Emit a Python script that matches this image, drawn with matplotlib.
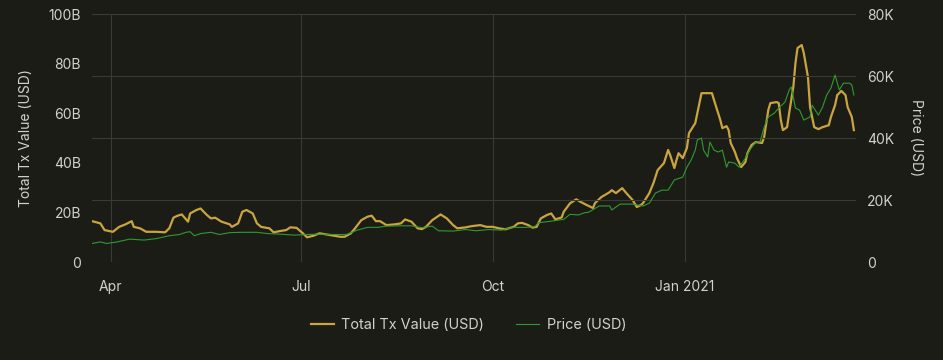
import matplotlib
matplotlib.use("Agg")
import matplotlib.pyplot as plt
import pandas as pd

# Total transaction value, billions USD
tx_dates = [
    "2020-03-23", "2020-03-27", "2020-03-29", "2020-04-02", "2020-04-05", "2020-04-08", "2020-04-11",
    "2020-04-12", "2020-04-15", "2020-04-18", "2020-04-23", "2020-04-27", "2020-04-29", "2020-05-01",
    "2020-05-03", "2020-05-05", "2020-05-08", "2020-05-09", "2020-05-12", "2020-05-14", "2020-05-17",
    "2020-05-19", "2020-05-21", "2020-05-24", "2020-05-28", "2020-05-29", "2020-06-01", "2020-06-03",
    "2020-06-05", "2020-06-08", "2020-06-10", "2020-06-12", "2020-06-16", "2020-06-18", "2020-06-21",
    "2020-06-24", "2020-06-26", "2020-06-29", "2020-07-02", "2020-07-04", "2020-07-07", "2020-07-10",
    "2020-07-15", "2020-07-20", "2020-07-22", "2020-07-25", "2020-07-27", "2020-07-30", "2020-08-02",
    "2020-08-04", "2020-08-06", "2020-08-08", "2020-08-11", "2020-08-15", "2020-08-18", "2020-08-20",
    "2020-08-23", "2020-08-26", "2020-08-28", "2020-08-30", "2020-09-02", "2020-09-06", "2020-09-09",
    "2020-09-12", "2020-09-14", "2020-09-18", "2020-09-21", "2020-09-25", "2020-09-28", "2020-10-01",
    "2020-10-04", "2020-10-07", "2020-10-11", "2020-10-13", "2020-10-15", "2020-10-18", "2020-10-20",
    "2020-10-22", "2020-10-24", "2020-10-27", "2020-10-29", "2020-10-31", "2020-11-03", "2020-11-04",
    "2020-11-07", "2020-11-10", "2020-11-12", "2020-11-15", "2020-11-18", "2020-11-19", "2020-11-22",
    "2020-11-26", "2020-11-27", "2020-11-29", "2020-12-02", "2020-12-04", "2020-12-07", "2020-12-09",
    "2020-12-11", "2020-12-12", "2020-12-15", "2020-12-17", "2020-12-19", "2020-12-22", "2020-12-24",
    "2020-12-25", "2020-12-27", "2020-12-28", "2020-12-29", "2020-12-31", "2021-01-02", "2021-01-03",
    "2021-01-06", "2021-01-07", "2021-01-09", "2021-01-11", "2021-01-14", "2021-01-15", "2021-01-18",
    "2021-01-19", "2021-01-21", "2021-01-22", "2021-01-23", "2021-01-25", "2021-01-26", "2021-01-28",
    "2021-01-30", "2021-01-31", "2021-02-02", "2021-02-04", "2021-02-07", "2021-02-08", "2021-02-10",
    "2021-02-11", "2021-02-14", "2021-02-15", "2021-02-16", "2021-02-17", "2021-02-19", "2021-02-20",
    "2021-02-22", "2021-02-23", "2021-02-24", "2021-02-26", "2021-02-27", "2021-03-01", "2021-03-02",
    "2021-03-04", "2021-03-06", "2021-03-08", "2021-03-11", "2021-03-12", "2021-03-14", "2021-03-15",
    "2021-03-17", "2021-03-19", "2021-03-20", "2021-03-22", "2021-03-23",
]
tx_value = [
    16.5, 15.6, 12.9, 12.2, 14.2, 15.2, 16.5,
    14.2, 13.6, 12.2, 12.2, 12.0, 13.6, 17.9,
    18.7, 19.2, 16.3, 19.6, 21.0, 21.6, 19.0,
    17.6, 17.9, 16.3, 15.2, 14.2, 15.6, 20.3,
    21.0, 19.6, 15.6, 14.2, 13.6, 12.0, 12.5,
    12.9, 14.0, 13.8, 11.6, 10.0, 10.6, 11.6,
    10.9, 10.2, 10.2, 11.6, 13.6, 16.9, 18.3,
    18.7, 16.5, 16.5, 14.9, 15.2, 15.6, 17.2,
    16.3, 13.6, 13.3, 14.2, 16.9, 19.2, 17.6,
    14.9, 13.6, 14.0, 14.5, 14.9, 14.2, 14.2,
    13.6, 13.2, 14.2, 15.6, 15.8, 14.9, 13.9,
    14.2, 17.6, 19.0, 19.6, 17.2, 18.0, 20.3,
    23.7, 25.3, 24.3, 23.0, 21.8, 23.8, 26.2,
    28.2, 29.0, 27.8, 29.8, 27.8, 25.0, 22.2,
    23.0, 23.8, 27.8, 31.9, 37.1, 39.9, 45.2,
    43.1, 37.9, 41.1, 43.9, 41.9, 46.0, 52.0,
    56.0, 60.1, 68.1, 68.1, 68.1, 65.3, 57.3,
    54.0, 54.8, 53.2, 48.0, 44.4, 41.9, 38.3,
    40.3, 43.9, 47.2, 48.4, 48.0, 50.4, 61.3,
    64.1, 64.5, 64.1, 57.3, 53.2, 54.4, 60.1,
    70.6, 80.2, 86.3, 87.5, 84.3, 74.6, 62.5,
    54.4, 53.6, 54.4, 55.2, 58.5, 63.3, 67.3,
    69.0, 67.3, 62.5, 58.5, 53.2,
]

# Price, thousands USD
price_dates = [
    "2020-03-23", "2020-03-27", "2020-03-30", "2020-04-04", "2020-04-10", "2020-04-17", "2020-04-23",
    "2020-04-29", "2020-05-04", "2020-05-07", "2020-05-09", "2020-05-11", "2020-05-14", "2020-05-19",
    "2020-05-23", "2020-05-28", "2020-06-03", "2020-06-10", "2020-06-15", "2020-06-21", "2020-06-28",
    "2020-07-04", "2020-07-10", "2020-07-17", "2020-07-23", "2020-07-28", "2020-08-02", "2020-08-07",
    "2020-08-11", "2020-08-18", "2020-08-23", "2020-08-28", "2020-09-02", "2020-09-05", "2020-09-12",
    "2020-09-18", "2020-09-23", "2020-09-29", "2020-10-05", "2020-10-11", "2020-10-17", "2020-10-21",
    "2020-10-23", "2020-10-29", "2020-11-04", "2020-11-07", "2020-11-11", "2020-11-14", "2020-11-16",
    "2020-11-21", "2020-11-26", "2020-11-27", "2020-12-01", "2020-12-07", "2020-12-12", "2020-12-15",
    "2020-12-18", "2020-12-21", "2020-12-24", "2020-12-27", "2020-12-31", "2021-01-02", "2021-01-04",
    "2021-01-06", "2021-01-07", "2021-01-09", "2021-01-10", "2021-01-12", "2021-01-13", "2021-01-15",
    "2021-01-17", "2021-01-19", "2021-01-21", "2021-01-22", "2021-01-25", "2021-01-27", "2021-01-30",
    "2021-02-01", "2021-02-04", "2021-02-06", "2021-02-08", "2021-02-10", "2021-02-13", "2021-02-15",
    "2021-02-18", "2021-02-20", "2021-02-21", "2021-02-23", "2021-02-25", "2021-02-27", "2021-03-02",
    "2021-03-03", "2021-03-06", "2021-03-08", "2021-03-10", "2021-03-12", "2021-03-14", "2021-03-16",
    "2021-03-18", "2021-03-21", "2021-03-22", "2021-03-23",
]
price_value = [
    6.0, 6.5, 6.0, 6.5, 7.4, 7.1, 7.6,
    8.5, 8.9, 9.6, 9.8, 8.5, 9.2, 9.6,
    8.9, 9.5, 9.6, 9.6, 9.2, 9.0, 8.7,
    8.9, 9.0, 8.9, 8.9, 10.3, 11.2, 11.2,
    11.6, 11.7, 11.7, 11.1, 11.6, 10.1, 10.0,
    10.5, 10.1, 10.5, 10.3, 11.2, 11.2, 11.4,
    12.7, 13.2, 13.8, 15.4, 15.2, 15.9, 16.1,
    18.1, 18.1, 16.8, 18.7, 18.7, 18.1, 19.0,
    22.3, 23.2, 23.2, 26.5, 27.4, 30.6, 32.9,
    36.1, 39.4, 40.0, 36.1, 33.9, 38.7, 36.1,
    35.5, 36.1, 30.6, 32.3, 31.9, 30.6, 33.5,
    36.1, 38.7, 38.7, 43.5, 46.8, 48.1, 49.7,
    51.6, 55.5, 56.5, 49.7, 49.0, 45.8, 46.8,
    50.6, 47.4, 50.0, 53.9, 56.1, 60.3, 55.5,
    57.7, 57.7, 57.1, 53.9,
]

left_ticks = [0, 20, 40, 60, 80, 100]
right_ticks = [0, 20, 40, 60, 80]
x_ticks = ["2020-04-01", "2020-07-01", "2020-10-01", "2021-01-01"]
x_tick_labels = ["Apr", "Jul", "Oct", "Jan 2021"]

bg = "#1c1c17"
grid_c = "#3b3b35"
text_c = "#d2d2ca"
gold = "#c9a43f"
green = "#2f9a2f"

plt.rcParams["font.family"] = ["Inter", "DejaVu Sans"]
plt.rcParams["font.size"] = 10

fig = plt.figure(figsize=(9.43, 3.6), dpi=100, facecolor=bg)
ax = fig.add_axes([0.0976, 0.272, 0.8101, 0.689])
ax.set_facecolor(bg)
ax2 = ax.twinx()

l1, = ax.plot(pd.to_datetime(tx_dates), tx_value, color=gold, lw=1.6,
              label="Total Tx Value (USD)")
l2, = ax2.plot(pd.to_datetime(price_dates), price_value, color=green, lw=0.8,
               label="Price (USD)")

ax.set_xlim(pd.Timestamp("2020-03-23"), pd.Timestamp("2021-03-24"))
ax.set_ylim(0, 100)
ax2.set_ylim(0, 80)

ax.set_xticks(pd.to_datetime(x_ticks))
ax.set_xticklabels(x_tick_labels)
ax.set_yticks(left_ticks)
ax.set_yticklabels([f"{v}B" if v else "0" for v in left_ticks])
ax2.set_yticks(right_ticks)
ax2.set_yticklabels([f"{v}K" if v else "0" for v in right_ticks])

ax.grid(axis="x", color=grid_c, lw=0.8)
ax.grid(axis="y", visible=False)
ax2.grid(axis="y", color=grid_c, lw=0.8)
ax2.set_axisbelow(True)
ax.set_axisbelow(True)

for a in (ax, ax2):
    for s in a.spines.values():
        s.set_visible(False)
    a.tick_params(length=0, colors=text_c, labelsize=10)
ax.tick_params(axis="x", pad=13)
ax.tick_params(axis="y", pad=8)
ax2.tick_params(axis="y", pad=8)

ax.set_ylabel("Total Tx Value (USD)", color=text_c, fontsize=10, labelpad=11)
ax2.set_ylabel("Price (USD)", color=text_c, fontsize=10, rotation=270,
               va="bottom", labelpad=11)

leg = fig.legend(handles=[l1, l2], loc="center", bbox_to_anchor=(0.497, 0.097),
                 ncol=2, frameon=False, fontsize=10.4, handlelength=1.6,
                 columnspacing=2.2, handletextpad=0.5)
for t in leg.get_texts():
    t.set_color(text_c)

fig.savefig("out.png", dpi=100, facecolor=bg)
